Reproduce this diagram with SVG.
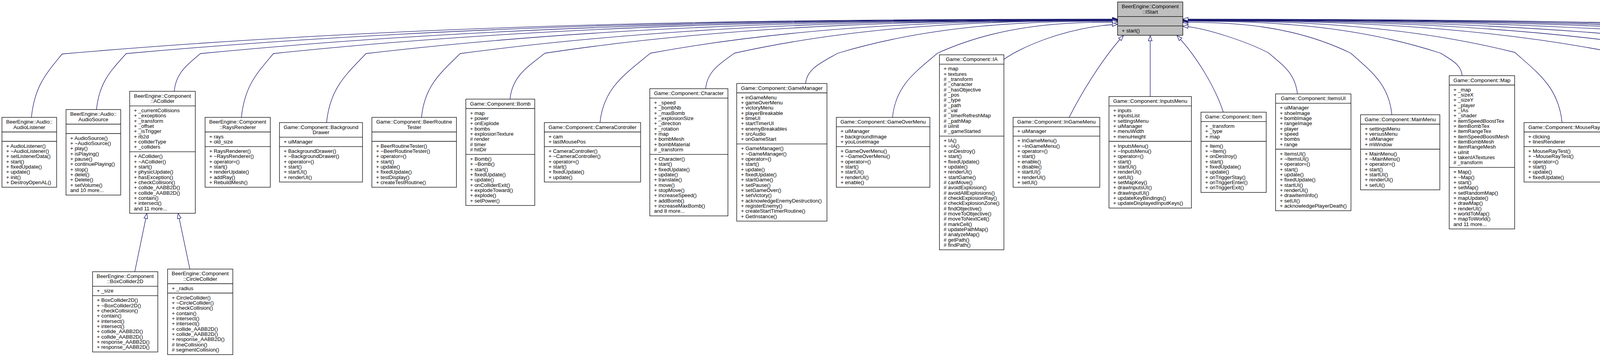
<svg xmlns="http://www.w3.org/2000/svg" width="5948" height="913" viewBox="0 0 5948 913">
<defs>
<style>
.node rect{fill:#fff;stroke:#000;stroke-width:1.3}
.node path{fill:none;stroke:#000;stroke-width:1.3}
#IStart rect{fill:#bfbfbf}
text{font-family:"Liberation Sans",Arial,Helvetica,sans-serif;font-size:13.33px;fill:#000}
.c{text-anchor:middle}
#edges path{fill:none;stroke:#191970;stroke-width:1.3;marker-end:url(#arr)}
</style>
<marker id="arr" markerUnits="userSpaceOnUse" viewBox="-2 -7 17 14" markerWidth="17" markerHeight="14" refX="13.3" refY="0" orient="auto" overflow="visible">
<path d="M0,-4.7L13.3,0L0,4.7Z" fill="#fff" stroke="#191970" stroke-width="1.3"/>
</marker>
</defs>
<rect width="5948" height="913" fill="#fff"/>
<g id="edges">
<path d="M80.4,300.2C88.5,219.1 119.7,186.7 159,138C1104.7,55.9 2050.4,49 2861,49"/>
<path d="M247,280.2C254.2,208.6 285,180 323,137C1211.3,56.5 2099.6,49.5 2861,49.5"/>
<path d="M446,233.5C450.8,185.3 479.5,166 513,137C1334.8,57 2156.6,50 2861,50"/>
<path d="M618,300.2C626.2,218.6 659,186 700,137C1456.4,57.4 2212.7,50.5 2861,50.5"/>
<path d="M836,313.5C844.8,225.3 886.5,190 937,137C1610.4,57.9 2283.8,51 2861,51"/>
<path d="M1079,300.2C1087.2,218.6 1128.5,186 1178,137C1767,58.3 2356.1,51.5 2861,51.5"/>
<path d="M1305.6,253.5C1311.5,194.8 1350.3,171.3 1395,136C1908.1,58.7 2421.2,52 2861,52"/>
<path d="M1536,313.5C1544.9,224.8 1600.5,189.3 1665,136C2083.6,59.2 2502.2,52.5 2861,52.5"/>
<path d="M1806.4,226.8C1810.9,181.4 1843.2,163.2 1880,136C2223.4,59.6 2566.7,53 2861,53"/>
<path d="M2062.3,213.5C2066.2,174.8 2103.7,159.3 2145,136C2395.6,60.6 2646.2,54 2861,54"/>
<path d="M2284.8,300.2C2293,218.1 2342.4,185.3 2400,136C2561.4,62.9 2722.7,56.5 2861,56.5"/>
<path d="M2569.7,152C2605,126 2720,70 2861,62"/>
<path d="M2737,300.2C2775,225 2830,140 2876,91"/>
<path d="M2944.5,246.8L2944.5,91"/>
<path d="M3131.7,286.8C3110,220 3060,140 3013,91"/>
<path d="M3321.3,240.2C3316,187.6 3284.2,166.6 3247,135C3195,108 3085,70 3028,67"/>
<path d="M3563.2,293.5C3555.3,214.8 3510.6,183.3 3458,136C3307.5,63.3 3157,57 3028,57"/>
<path d="M3743.2,193.5C3740.3,164.8 3715.6,153.3 3688,136C3457,60.6 3226,54 3028,54"/>
<path d="M3998.9,313.5C3989.9,223.8 3938.5,187.9 3878,134C3580.5,59.5 3283,53 3028,53"/>
<path d="M4218.9,253.5C4212.9,193.8 4175.5,169.9 4132,134C3745.6,59 3359.2,52.5 3028,52.5"/>
<path d="M4432.8,280.2C4425.5,207.1 4383.4,177.9 4334,134C3876.9,58.6 3419.8,52 3028,52"/>
<path d="M4642.5,246.8C4636.9,190.4 4592.8,167.8 4543,134C4012.7,58.1 3482.5,51.5 3028,51.5"/>
<path d="M4910,306.8C4901.4,220.4 4851,185.8 4792,134C4174.6,57.6 3557.2,51 3028,51"/>
<path d="M5134.6,286.8C5127,210.4 5084.3,179.8 5034,134C4331.9,57.2 3629.8,50.5 3028,50.5"/>
<path d="M5333.4,246.8C5327.8,190.4 5287.2,167.8 5241,134C4466.4,56.7 3691.9,50 3028,50"/>
<path d="M5579,306.8C5570.4,220.4 5520,185.8 5461,134C4609.4,56.3 3757.9,49.5 3028,49.5"/>
<path d="M5816.8,300.2C5808.5,217.1 5757.9,183.9 5699,134C4764.1,55.8 3829.3,49 3028,49"/>
<path d="M345,694.8L376,545.5"/>
<path d="M486,688.2L456,545.5"/>
</g>
<g id="IStart" class="node" transform="translate(2861,5)"><rect width="167" height="85.333"/><path d="M0,37.333H167M0,61.333H167"/><text class="c" x="83.5" y="16.3">BeerEngine::Component<tspan x="83.5" dy="13.333">::IStart</tspan></text><text y="77.63"><tspan x="10.7">+ start()</tspan></text></g>
<g id="AudioListener" class="node" transform="translate(5,300.167)"><rect width="140" height="178.667"/><path d="M0,37.333H140M0,61.333H140"/><text class="c" x="70" y="16.3">BeerEngine::Audio::<tspan x="70" dy="13.333">AudioListener</tspan></text><text y="77.63"><tspan x="10.7">+ AudioListener()</tspan><tspan x="10.7" dy="13.333">+ ~AudioListener()</tspan><tspan x="10.7" dy="13.333">+ setListenerData()</tspan><tspan x="10.7" dy="13.333">+ start()</tspan><tspan x="10.7" dy="13.333">+ fixedUpdate()</tspan><tspan x="10.7" dy="13.333">+ update()</tspan><tspan x="10.7" dy="13.333">+ init()</tspan><tspan x="10.7" dy="13.333">+ DestroyOpenAL()</tspan></text></g>
<g id="AudioSource" class="node" transform="translate(169,280.167)"><rect width="140" height="218.667"/><path d="M0,37.333H140M0,61.333H140"/><text class="c" x="70" y="16.3">BeerEngine::Audio::<tspan x="70" dy="13.333">AudioSource</tspan></text><text y="77.63"><tspan x="10.7">+ AudioSource()</tspan><tspan x="10.7" dy="13.333">+ ~AudioSource()</tspan><tspan x="10.7" dy="13.333">+ play()</tspan><tspan x="10.7" dy="13.333">+ isPlaying()</tspan><tspan x="10.7" dy="13.333">+ pause()</tspan><tspan x="10.7" dy="13.333">+ continuePlaying()</tspan><tspan x="10.7" dy="13.333">+ stop()</tspan><tspan x="10.7" dy="13.333">+ delet()</tspan><tspan x="10.7" dy="13.333">+ Delete()</tspan><tspan x="10.7" dy="13.333">+ setVolume()</tspan><tspan x="10.7" dy="13.333">and 10 more...</tspan></text></g>
<g id="ACollider" class="node" transform="translate(332,233.5)"><rect width="168" height="312"/><path d="M0,37.333H168M0,154.667H168"/><text class="c" x="84" y="16.3">BeerEngine::Component<tspan x="84" dy="13.333">::ACollider</tspan></text><text y="53.63"><tspan x="10.7">+ _currentCollisions</tspan><tspan x="10.7" dy="13.333">+ _exceptions</tspan><tspan x="10.7" dy="13.333">+ _transform</tspan><tspan x="10.7" dy="13.333">+ _offset</tspan><tspan x="10.7" dy="13.333">+ _isTrigger</tspan><tspan x="10.7" dy="13.333">+ rb2d</tspan><tspan x="10.7" dy="13.333">+ colliderType</tspan><tspan x="10.7" dy="13.333">+ _colliders</tspan></text><text y="170.97"><tspan x="10.7">+ ACollider()</tspan><tspan x="10.7" dy="13.333">+ ~ACollider()</tspan><tspan x="10.7" dy="13.333">+ start()</tspan><tspan x="10.7" dy="13.333">+ physicUpdate()</tspan><tspan x="10.7" dy="13.333">+ hasException()</tspan><tspan x="10.7" dy="13.333">+ checkCollision()</tspan><tspan x="10.7" dy="13.333">+ collide_AABB2D()</tspan><tspan x="10.7" dy="13.333">+ collide_AABB2D()</tspan><tspan x="10.7" dy="13.333">+ contain()</tspan><tspan x="10.7" dy="13.333">+ intersect()</tspan><tspan x="10.7" dy="13.333">and 11 more...</tspan></text></g>
<g id="RaysRenderer" class="node" transform="translate(525,300.167)"><rect width="167" height="178.667"/><path d="M0,37.333H167M0,74.667H167"/><text class="c" x="83.5" y="16.3">BeerEngine::Component<tspan x="83.5" dy="13.333">::RaysRenderer</tspan></text><text y="53.63"><tspan x="10.7">+ rays</tspan><tspan x="10.7" dy="13.333">+ old_size</tspan></text><text y="90.97"><tspan x="10.7">+ RaysRenderer()</tspan><tspan x="10.7" dy="13.333">+ ~RaysRenderer()</tspan><tspan x="10.7" dy="13.333">+ operator=()</tspan><tspan x="10.7" dy="13.333">+ start()</tspan><tspan x="10.7" dy="13.333">+ renderUpdate()</tspan><tspan x="10.7" dy="13.333">+ addRay()</tspan><tspan x="10.7" dy="13.333">+ RebuildMesh()</tspan></text></g>
<g id="BackgroundDrawer" class="node" transform="translate(715.5,313.5)"><rect width="212.5" height="152"/><path d="M0,37.333H212.5M0,61.333H212.5"/><text class="c" x="106.25" y="16.3">Game::Component::Background<tspan x="106.25" dy="13.333">Drawer</tspan></text><text y="53.63"><tspan x="10.7">+ uiManager</tspan></text><text y="77.63"><tspan x="10.7">+ BackgroundDrawer()</tspan><tspan x="10.7" dy="13.333">+ ~BackgroundDrawer()</tspan><tspan x="10.7" dy="13.333">+ operator=()</tspan><tspan x="10.7" dy="13.333">+ start()</tspan><tspan x="10.7" dy="13.333">+ startUI()</tspan><tspan x="10.7" dy="13.333">+ renderUI()</tspan></text></g>
<g id="BeerRoutineTester" class="node" transform="translate(952,300.167)"><rect width="216.5" height="178.667"/><path d="M0,37.333H216.5M0,61.333H216.5"/><text class="c" x="108.25" y="16.3">Game::Component::BeerRoutine<tspan x="108.25" dy="13.333">Tester</tspan></text><text y="77.63"><tspan x="10.7">+ BeerRoutineTester()</tspan><tspan x="10.7" dy="13.333">+ ~BeerRoutineTester()</tspan><tspan x="10.7" dy="13.333">+ operator=()</tspan><tspan x="10.7" dy="13.333">+ start()</tspan><tspan x="10.7" dy="13.333">+ update()</tspan><tspan x="10.7" dy="13.333">+ fixedUpdate()</tspan><tspan x="10.7" dy="13.333">+ testDisplay()</tspan><tspan x="10.7" dy="13.333">+ createTestRoutine()</tspan></text></g>
<g id="Bomb" class="node" transform="translate(1192.5,253.5)"><rect width="176.5" height="272"/><path d="M0,24H176.5M0,141.333H176.5"/><text class="c" x="88.25" y="16.3">Game::Component::Bomb</text><text y="40.3"><tspan x="10.7">+ map</tspan><tspan x="10.7" dy="13.333">+ power</tspan><tspan x="10.7" dy="13.333">+ onExplode</tspan><tspan x="10.7" dy="13.333">+ bombs</tspan><tspan x="10.7" dy="13.333">+ explosionTexture</tspan><tspan x="10.7" dy="13.333"># render</tspan><tspan x="10.7" dy="13.333"># timer</tspan><tspan x="10.7" dy="13.333"># hitDir</tspan></text><text y="157.63"><tspan x="10.7">+ Bomb()</tspan><tspan x="10.7" dy="13.333">+ ~Bomb()</tspan><tspan x="10.7" dy="13.333">+ start()</tspan><tspan x="10.7" dy="13.333">+ fixedUpdate()</tspan><tspan x="10.7" dy="13.333">+ update()</tspan><tspan x="10.7" dy="13.333">+ onColliderExit()</tspan><tspan x="10.7" dy="13.333">+ explodeToward()</tspan><tspan x="10.7" dy="13.333">+ explode()</tspan><tspan x="10.7" dy="13.333">+ setPower()</tspan></text></g>
<g id="CameraController" class="node" transform="translate(1393.5,313.5)"><rect width="246.5" height="152"/><path d="M0,24H246.5M0,61.333H246.5"/><text class="c" x="123.25" y="16.3">Game::Component::CameraController</text><text y="40.3"><tspan x="10.7">+ cam</tspan><tspan x="10.7" dy="13.333">+ lastMousePos</tspan></text><text y="77.63"><tspan x="10.7">+ CameraController()</tspan><tspan x="10.7" dy="13.333">+ ~CameraController()</tspan><tspan x="10.7" dy="13.333">+ operator=()</tspan><tspan x="10.7" dy="13.333">+ start()</tspan><tspan x="10.7" dy="13.333">+ fixedUpdate()</tspan><tspan x="10.7" dy="13.333">+ update()</tspan></text></g>
<g id="Character" class="node" transform="translate(1663.5,226.833)"><rect width="200" height="325.333"/><path d="M0,24H200M0,168H200"/><text class="c" x="100" y="16.3">Game::Component::Character</text><text y="40.3"><tspan x="10.7">+ _speed</tspan><tspan x="10.7" dy="13.333">+ _bombNb</tspan><tspan x="10.7" dy="13.333">+ _maxBomb</tspan><tspan x="10.7" dy="13.333">+ _explosionSize</tspan><tspan x="10.7" dy="13.333">+ _direction</tspan><tspan x="10.7" dy="13.333">+ _rotation</tspan><tspan x="10.7" dy="13.333">+ map</tspan><tspan x="10.7" dy="13.333">+ bombMesh</tspan><tspan x="10.7" dy="13.333">+ bombMaterial</tspan><tspan x="10.7" dy="13.333"># _transform</tspan></text><text y="184.3"><tspan x="10.7">+ Character()</tspan><tspan x="10.7" dy="13.333">+ start()</tspan><tspan x="10.7" dy="13.333">+ fixedUpdate()</tspan><tspan x="10.7" dy="13.333">+ update()</tspan><tspan x="10.7" dy="13.333">+ translate()</tspan><tspan x="10.7" dy="13.333">+ move()</tspan><tspan x="10.7" dy="13.333">+ stopMove()</tspan><tspan x="10.7" dy="13.333">+ increaseSpeed()</tspan><tspan x="10.7" dy="13.333">+ addBomb()</tspan><tspan x="10.7" dy="13.333">+ increaseMaxBomb()</tspan><tspan x="10.7" dy="13.333">and 8 more...</tspan></text></g>
<g id="GameManager" class="node" transform="translate(1886,213.5)"><rect width="231" height="352"/><path d="M0,24H231M0,154.667H231"/><text class="c" x="115.5" y="16.3">Game::Component::GameManager</text><text y="40.3"><tspan x="10.7">+ inGameMenu</tspan><tspan x="10.7" dy="13.333">+ gameOverMenu</tspan><tspan x="10.7" dy="13.333">+ victoryMenu</tspan><tspan x="10.7" dy="13.333">+ playerBreakable</tspan><tspan x="10.7" dy="13.333">+ timeUI</tspan><tspan x="10.7" dy="13.333">+ startTimerUI</tspan><tspan x="10.7" dy="13.333">+ enemyBreakables</tspan><tspan x="10.7" dy="13.333">+ srcAudio</tspan><tspan x="10.7" dy="13.333">+ onGameStart</tspan></text><text y="170.97"><tspan x="10.7">+ GameManager()</tspan><tspan x="10.7" dy="13.333">+ ~GameManager()</tspan><tspan x="10.7" dy="13.333">+ operator=()</tspan><tspan x="10.7" dy="13.333">+ start()</tspan><tspan x="10.7" dy="13.333">+ update()</tspan><tspan x="10.7" dy="13.333">+ fixedUpdate()</tspan><tspan x="10.7" dy="13.333">+ startGame()</tspan><tspan x="10.7" dy="13.333">+ setPause()</tspan><tspan x="10.7" dy="13.333">+ setGameOver()</tspan><tspan x="10.7" dy="13.333">+ setVictory()</tspan><tspan x="10.7" dy="13.333">+ acknowledgeEnemyDestruction()</tspan><tspan x="10.7" dy="13.333">+ registerEnemy()</tspan><tspan x="10.7" dy="13.333">+ createStartTimerRoutine()</tspan><tspan x="10.7" dy="13.333">+ GetInstance()</tspan></text></g>
<g id="GameOverMenu" class="node" transform="translate(2141,300.167)"><rect width="239.5" height="178.667"/><path d="M0,24H239.5M0,74.667H239.5"/><text class="c" x="119.75" y="16.3">Game::Component::GameOverMenu</text><text y="40.3"><tspan x="10.7">+ uiManager</tspan><tspan x="10.7" dy="13.333">+ backgroundImage</tspan><tspan x="10.7" dy="13.333">+ youLoseImage</tspan></text><text y="90.97"><tspan x="10.7">+ GameOverMenu()</tspan><tspan x="10.7" dy="13.333">+ ~GameOverMenu()</tspan><tspan x="10.7" dy="13.333">+ operator=()</tspan><tspan x="10.7" dy="13.333">+ start()</tspan><tspan x="10.7" dy="13.333">+ startUI()</tspan><tspan x="10.7" dy="13.333">+ renderUI()</tspan><tspan x="10.7" dy="13.333">+ enable()</tspan></text></g>
<g id="IA" class="node" transform="translate(2405,140.167)"><rect width="165" height="498.667"/><path d="M0,24H165M0,208H165"/><text class="c" x="82.5" y="16.3">Game::Component::IA</text><text y="40.3"><tspan x="10.7">+ map</tspan><tspan x="10.7" dy="13.333">+ textures</tspan><tspan x="10.7" dy="13.333"># _transform</tspan><tspan x="10.7" dy="13.333"># _character</tspan><tspan x="10.7" dy="13.333"># _hasObjective</tspan><tspan x="10.7" dy="13.333"># _pos</tspan><tspan x="10.7" dy="13.333"># _type</tspan><tspan x="10.7" dy="13.333"># _path</tspan><tspan x="10.7" dy="13.333"># _val</tspan><tspan x="10.7" dy="13.333"># _timerRefreshMap</tspan><tspan x="10.7" dy="13.333"># _pathMap</tspan><tspan x="10.7" dy="13.333"># uiInit</tspan><tspan x="10.7" dy="13.333"># _gameStarted</tspan></text><text y="224.3"><tspan x="10.7">+ IA()</tspan><tspan x="10.7" dy="13.333">+ ~IA()</tspan><tspan x="10.7" dy="13.333">+ onDestroy()</tspan><tspan x="10.7" dy="13.333">+ start()</tspan><tspan x="10.7" dy="13.333">+ fixedUpdate()</tspan><tspan x="10.7" dy="13.333">+ update()</tspan><tspan x="10.7" dy="13.333">+ renderUI()</tspan><tspan x="10.7" dy="13.333">+ startGame()</tspan><tspan x="10.7" dy="13.333"># canMove()</tspan><tspan x="10.7" dy="13.333"># avoidExplosion()</tspan><tspan x="10.7" dy="13.333"># avoidAllExplosions()</tspan><tspan x="10.7" dy="13.333"># checkExplosionRay()</tspan><tspan x="10.7" dy="13.333"># checkExplosionZone()</tspan><tspan x="10.7" dy="13.333"># findObjective()</tspan><tspan x="10.7" dy="13.333"># moveToObjective()</tspan><tspan x="10.7" dy="13.333"># moveToNextCell()</tspan><tspan x="10.7" dy="13.333"># markCell()</tspan><tspan x="10.7" dy="13.333"># updatePathMap()</tspan><tspan x="10.7" dy="13.333"># analyzeMap()</tspan><tspan x="10.7" dy="13.333"># getPath()</tspan><tspan x="10.7" dy="13.333"># findPath()</tspan></text></g>
<g id="InGameMenu" class="node" transform="translate(2593.5,300.167)"><rect width="222" height="178.667"/><path d="M0,24H222M0,48H222"/><text class="c" x="111" y="16.3">Game::Component::InGameMenu</text><text y="40.3"><tspan x="10.7">+ uiManager</tspan></text><text y="64.3"><tspan x="10.7">+ InGameMenu()</tspan><tspan x="10.7" dy="13.333">+ ~InGameMenu()</tspan><tspan x="10.7" dy="13.333">+ operator=()</tspan><tspan x="10.7" dy="13.333">+ start()</tspan><tspan x="10.7" dy="13.333">+ enable()</tspan><tspan x="10.7" dy="13.333">+ disable()</tspan><tspan x="10.7" dy="13.333">+ startUI()</tspan><tspan x="10.7" dy="13.333">+ renderUI()</tspan><tspan x="10.7" dy="13.333">+ setUI()</tspan></text></g>
<g id="InputsMenu" class="node" transform="translate(2839,246.833)"><rect width="211" height="285.333"/><path d="M0,24H211M0,114.667H211"/><text class="c" x="105.5" y="16.3">Game::Component::InputsMenu</text><text y="40.3"><tspan x="10.7">+ inputs</tspan><tspan x="10.7" dy="13.333">+ inputsList</tspan><tspan x="10.7" dy="13.333">+ settingsMenu</tspan><tspan x="10.7" dy="13.333">+ uiManager</tspan><tspan x="10.7" dy="13.333">+ menuWidth</tspan><tspan x="10.7" dy="13.333">+ menuHeight</tspan></text><text y="130.97"><tspan x="10.7">+ InputsMenu()</tspan><tspan x="10.7" dy="13.333">+ ~InputsMenu()</tspan><tspan x="10.7" dy="13.333">+ operator=()</tspan><tspan x="10.7" dy="13.333">+ start()</tspan><tspan x="10.7" dy="13.333">+ startUI()</tspan><tspan x="10.7" dy="13.333">+ renderUI()</tspan><tspan x="10.7" dy="13.333">+ setUI()</tspan><tspan x="10.7" dy="13.333">+ setMapKey()</tspan><tspan x="10.7" dy="13.333">+ drawInputsUI()</tspan><tspan x="10.7" dy="13.333">+ drawInputUI()</tspan><tspan x="10.7" dy="13.333">+ updateKeyBindings()</tspan><tspan x="10.7" dy="13.333">+ updateDisplayedInputKeys()</tspan></text></g>
<g id="Item" class="node" transform="translate(3074.5,286.833)"><rect width="167" height="205.333"/><path d="M0,24H167M0,74.667H167"/><text class="c" x="83.5" y="16.3">Game::Component::Item</text><text y="40.3"><tspan x="10.7">+ _transform</tspan><tspan x="10.7" dy="13.333">+ _type</tspan><tspan x="10.7" dy="13.333">+ map</tspan></text><text y="90.97"><tspan x="10.7">+ Item()</tspan><tspan x="10.7" dy="13.333">+ ~Item()</tspan><tspan x="10.7" dy="13.333">+ onDestroy()</tspan><tspan x="10.7" dy="13.333">+ start()</tspan><tspan x="10.7" dy="13.333">+ fixedUpdate()</tspan><tspan x="10.7" dy="13.333">+ update()</tspan><tspan x="10.7" dy="13.333">+ onTriggerStay()</tspan><tspan x="10.7" dy="13.333">+ onTriggerEnter()</tspan><tspan x="10.7" dy="13.333">+ onTriggerExit()</tspan></text></g>
<g id="ItemsUI" class="node" transform="translate(3265.5,240.167)"><rect width="193" height="298.667"/><path d="M0,24H193M0,141.333H193"/><text class="c" x="96.5" y="16.3">Game::Component::ItemsUI</text><text y="40.3"><tspan x="10.7">+ uiManager</tspan><tspan x="10.7" dy="13.333">+ shoeImage</tspan><tspan x="10.7" dy="13.333">+ bombImage</tspan><tspan x="10.7" dy="13.333">+ rangeImage</tspan><tspan x="10.7" dy="13.333">+ player</tspan><tspan x="10.7" dy="13.333">+ speed</tspan><tspan x="10.7" dy="13.333">+ bombs</tspan><tspan x="10.7" dy="13.333">+ range</tspan></text><text y="157.63"><tspan x="10.7">+ ItemsUI()</tspan><tspan x="10.7" dy="13.333">+ ~ItemsUI()</tspan><tspan x="10.7" dy="13.333">+ operator=()</tspan><tspan x="10.7" dy="13.333">+ start()</tspan><tspan x="10.7" dy="13.333">+ update()</tspan><tspan x="10.7" dy="13.333">+ fixedUpdate()</tspan><tspan x="10.7" dy="13.333">+ startUI()</tspan><tspan x="10.7" dy="13.333">+ renderUI()</tspan><tspan x="10.7" dy="13.333">+ drawItemInfo()</tspan><tspan x="10.7" dy="13.333">+ setUI()</tspan><tspan x="10.7" dy="13.333">+ acknowledgePlayerDeath()</tspan></text></g>
<g id="MainMenu" class="node" transform="translate(3483,293.5)"><rect width="203" height="192"/><path d="M0,24H203M0,88H203"/><text class="c" x="101.5" y="16.3">Game::Component::MainMenu</text><text y="40.3"><tspan x="10.7">+ settingsMenu</tspan><tspan x="10.7" dy="13.333">+ versusMenu</tspan><tspan x="10.7" dy="13.333">+ uiManager</tspan><tspan x="10.7" dy="13.333">+ mWindow</tspan></text><text y="104.3"><tspan x="10.7">+ MainMenu()</tspan><tspan x="10.7" dy="13.333">+ ~MainMenu()</tspan><tspan x="10.7" dy="13.333">+ operator=()</tspan><tspan x="10.7" dy="13.333">+ start()</tspan><tspan x="10.7" dy="13.333">+ startUI()</tspan><tspan x="10.7" dy="13.333">+ renderUI()</tspan><tspan x="10.7" dy="13.333">+ setUI()</tspan></text></g>
<g id="Map" class="node" transform="translate(3710,193.5)"><rect width="167.5" height="392"/><path d="M0,24H167.5M0,234.667H167.5"/><text class="c" x="83.75" y="16.3">Game::Component::Map</text><text y="40.3"><tspan x="10.7">+ _map</tspan><tspan x="10.7" dy="13.333">+ _sizeX</tspan><tspan x="10.7" dy="13.333">+ _sizeY</tspan><tspan x="10.7" dy="13.333">+ _player</tspan><tspan x="10.7" dy="13.333">+ _IAs</tspan><tspan x="10.7" dy="13.333">+ _shader</tspan><tspan x="10.7" dy="13.333">+ itemSpeedBoostTex</tspan><tspan x="10.7" dy="13.333">+ itemBombTex</tspan><tspan x="10.7" dy="13.333">+ itemRangeTex</tspan><tspan x="10.7" dy="13.333">+ itemSpeedBoostMesh</tspan><tspan x="10.7" dy="13.333">+ itemBombMesh</tspan><tspan x="10.7" dy="13.333">+ itemRangeMesh</tspan><tspan x="10.7" dy="13.333">+ uiInit</tspan><tspan x="10.7" dy="13.333">+ takenIATextures</tspan><tspan x="10.7" dy="13.333"># _transform</tspan></text><text y="250.97"><tspan x="10.7">+ Map()</tspan><tspan x="10.7" dy="13.333">+ ~Map()</tspan><tspan x="10.7" dy="13.333">+ start()</tspan><tspan x="10.7" dy="13.333">+ setMap()</tspan><tspan x="10.7" dy="13.333">+ setRandomMap()</tspan><tspan x="10.7" dy="13.333">+ mapUpdate()</tspan><tspan x="10.7" dy="13.333">+ drawMap()</tspan><tspan x="10.7" dy="13.333">+ renderUI()</tspan><tspan x="10.7" dy="13.333">+ worldToMap()</tspan><tspan x="10.7" dy="13.333">+ mapToWorld()</tspan><tspan x="10.7" dy="13.333">and 11 more...</tspan></text></g>
<g id="MouseRayTest" class="node" transform="translate(3901.5,313.5)"><rect width="230" height="152"/><path d="M0,24H230M0,61.333H230"/><text class="c" x="115" y="16.3">Game::Component::MouseRayTest</text><text y="40.3"><tspan x="10.7">+ clicking</tspan><tspan x="10.7" dy="13.333">+ linesRenderer</tspan></text><text y="77.63"><tspan x="10.7">+ MouseRayTest()</tspan><tspan x="10.7" dy="13.333">+ ~MouseRayTest()</tspan><tspan x="10.7" dy="13.333">+ operator=()</tspan><tspan x="10.7" dy="13.333">+ start()</tspan><tspan x="10.7" dy="13.333">+ update()</tspan><tspan x="10.7" dy="13.333">+ fixedUpdate()</tspan></text></g>
<g id="Player" class="node" transform="translate(4155,253.5)"><rect width="179.5" height="272"/><path d="M0,24H179.5M0,128H179.5"/><text class="c" x="89.75" y="16.3">Game::Component::Player</text><text y="40.3"><tspan x="10.7">+ _character</tspan><tspan x="10.7" dy="13.333">+ srcAudio</tspan><tspan x="10.7" dy="13.333">+ itemSrcAudio</tspan><tspan x="10.7" dy="13.333">+ play</tspan><tspan x="10.7" dy="13.333">+ createCrateSignal</tspan><tspan x="10.7" dy="13.333"># _transform</tspan><tspan x="10.7" dy="13.333"># _gameStarted</tspan></text><text y="144.3"><tspan x="10.7">+ Player()</tspan><tspan x="10.7" dy="13.333">+ ~Player()</tspan><tspan x="10.7" dy="13.333">+ onDestroy()</tspan><tspan x="10.7" dy="13.333">+ start()</tspan><tspan x="10.7" dy="13.333">+ fixedUpdate()</tspan><tspan x="10.7" dy="13.333">+ update()</tspan><tspan x="10.7" dy="13.333">+ renderUI()</tspan><tspan x="10.7" dy="13.333">+ onColliderEnter()</tspan><tspan x="10.7" dy="13.333">+ playStepSound()</tspan><tspan x="10.7" dy="13.333">+ startGame()</tspan></text></g>
<g id="Settings" class="node" transform="translate(4358,280.167)"><rect width="189.5" height="218.667"/><path d="M0,24H189.5M0,61.333H189.5"/><text class="c" x="94.75" y="16.3">Game::Component::Settings</text><text y="40.3"><tspan x="10.7">+ filePath</tspan><tspan x="10.7" dy="13.333">+ settingsContainer</tspan></text><text y="77.63"><tspan x="10.7">+ Settings()</tspan><tspan x="10.7" dy="13.333">+ ~Settings()</tspan><tspan x="10.7" dy="13.333">+ operator=()</tspan><tspan x="10.7" dy="13.333">+ loadSettings()</tspan><tspan x="10.7" dy="13.333">+ saveSettings()</tspan><tspan x="10.7" dy="13.333">+ resetSettings()</tspan><tspan x="10.7" dy="13.333">+ applyCurrentSettings()</tspan><tspan x="10.7" dy="13.333">+ gatherCurrentSettings()</tspan><tspan x="10.7" dy="13.333">+ start()</tspan><tspan x="10.7" dy="13.333">+ defaultSettings()</tspan><tspan x="10.7" dy="13.333">+ GetInstance()</tspan></text></g>
<g id="SettingsMenu" class="node" transform="translate(4571.5,246.833)"><rect width="223.5" height="285.333"/><path d="M0,24H223.5M0,141.333H223.5"/><text class="c" x="111.75" y="16.3">Game::Component::SettingsMenu</text><text y="40.3"><tspan x="10.7">+ musicVolume</tspan><tspan x="10.7" dy="13.333">+ soundVolume</tspan><tspan x="10.7" dy="13.333">+ mode</tspan><tspan x="10.7" dy="13.333">+ mainMenu</tspan><tspan x="10.7" dy="13.333">+ inputsMenu</tspan><tspan x="10.7" dy="13.333">+ uiManager</tspan><tspan x="10.7" dy="13.333">+ settingsManager</tspan><tspan x="10.7" dy="13.333">+ mWindow</tspan></text><text y="157.63"><tspan x="10.7">+ SettingsMenu()</tspan><tspan x="10.7" dy="13.333">+ ~SettingsMenu()</tspan><tspan x="10.7" dy="13.333">+ operator=()</tspan><tspan x="10.7" dy="13.333">+ start()</tspan><tspan x="10.7" dy="13.333">+ startUI()</tspan><tspan x="10.7" dy="13.333">+ renderUI()</tspan><tspan x="10.7" dy="13.333">+ setUI()</tspan><tspan x="10.7" dy="13.333">+ saveSettings()</tspan><tspan x="10.7" dy="13.333">+ resetSettings()</tspan><tspan x="10.7" dy="13.333">+ updateScreenResolution()</tspan></text></g>
<g id="StartTimerUI" class="node" transform="translate(4819,306.833)"><rect width="216.5" height="165.333"/><path d="M0,24H216.5M0,61.333H216.5"/><text class="c" x="108.25" y="16.3">Game::Component::StartTimerUI</text><text y="40.3"><tspan x="10.7">+ uiManager</tspan><tspan x="10.7" dy="13.333">+ text</tspan></text><text y="77.63"><tspan x="10.7">+ StartTimerUI()</tspan><tspan x="10.7" dy="13.333">+ ~StartTimerUI()</tspan><tspan x="10.7" dy="13.333">+ operator=()</tspan><tspan x="10.7" dy="13.333">+ start()</tspan><tspan x="10.7" dy="13.333">+ startUI()</tspan><tspan x="10.7" dy="13.333">+ renderUI()</tspan><tspan x="10.7" dy="13.333">+ updateDisplay()</tspan></text></g>
<g id="TimeUI" class="node" transform="translate(5059.5,286.833)"><rect width="184" height="205.333"/><path d="M0,24H184M0,88H184"/><text class="c" x="92" y="16.3">Game::Component::TimeUI</text><text y="40.3"><tspan x="10.7">+ uiManager</tspan><tspan x="10.7" dy="13.333">+ backGround</tspan><tspan x="10.7" dy="13.333">+ tvScreen</tspan><tspan x="10.7" dy="13.333">+ timeSinceGameStart</tspan></text><text y="104.3"><tspan x="10.7">+ TimeUI()</tspan><tspan x="10.7" dy="13.333">+ ~TimeUI()</tspan><tspan x="10.7" dy="13.333">+ operator=()</tspan><tspan x="10.7" dy="13.333">+ start()</tspan><tspan x="10.7" dy="13.333">+ startUI()</tspan><tspan x="10.7" dy="13.333">+ renderUI()</tspan><tspan x="10.7" dy="13.333">+ setUI()</tspan><tspan x="10.7" dy="13.333">+ startClock()</tspan></text></g>
<g id="UIThemeManager" class="node" transform="translate(5267.5,246.833)"><rect width="196.5" height="285.333"/><path d="M0,37.333H196.5M0,141.333H196.5"/><text class="c" x="98.25" y="16.3">Game::Component::UITheme<tspan x="98.25" dy="13.333">Manager</tspan></text><text y="53.63"><tspan x="10.7">+ defaultWindow</tspan><tspan x="10.7" dy="13.333">+ defaultButton</tspan><tspan x="10.7" dy="13.333">+ defaultProperty</tspan><tspan x="10.7" dy="13.333">+ defaultText</tspan><tspan x="10.7" dy="13.333">+ defaultSlider</tspan><tspan x="10.7" dy="13.333">+ available_fonts</tspan><tspan x="10.7" dy="13.333">+ themeButton</tspan></text><text y="157.63"><tspan x="10.7">+ UIThemeManager()</tspan><tspan x="10.7" dy="13.333">+ ~UIThemeManager()</tspan><tspan x="10.7" dy="13.333">+ operator=()</tspan><tspan x="10.7" dy="13.333">+ start()</tspan><tspan x="10.7" dy="13.333">+ startUI()</tspan><tspan x="10.7" dy="13.333">+ renderUI()</tspan><tspan x="10.7" dy="13.333">+ saveDefaultUI()</tspan><tspan x="10.7" dy="13.333">+ setThemeUI()</tspan><tspan x="10.7" dy="13.333">+ resetToDefaultUI()</tspan><tspan x="10.7" dy="13.333">+ loadSprite()</tspan></text></g>
<g id="VersusMenu" class="node" transform="translate(5487.5,306.833)"><rect width="215" height="165.333"/><path d="M0,24H215M0,74.667H215"/><text class="c" x="107.5" y="16.3">Game::Component::VersusMenu</text><text y="40.3"><tspan x="10.7">+ uiManager</tspan><tspan x="10.7" dy="13.333">+ mainMenu</tspan><tspan x="10.7" dy="13.333">+ maps</tspan></text><text y="90.97"><tspan x="10.7">+ VersusMenu()</tspan><tspan x="10.7" dy="13.333">+ ~VersusMenu()</tspan><tspan x="10.7" dy="13.333">+ operator=()</tspan><tspan x="10.7" dy="13.333">+ start()</tspan><tspan x="10.7" dy="13.333">+ startUI()</tspan><tspan x="10.7" dy="13.333">+ renderUI()</tspan></text></g>
<g id="VictoryMenu" class="node" transform="translate(5727.5,300.167)"><rect width="215.5" height="178.667"/><path d="M0,24H215.5M0,74.667H215.5"/><text class="c" x="107.75" y="16.3">Game::Component::VictoryMenu</text><text y="40.3"><tspan x="10.7">+ uiManager</tspan><tspan x="10.7" dy="13.333">+ backgroundImage</tspan><tspan x="10.7" dy="13.333">+ titleImage</tspan></text><text y="90.97"><tspan x="10.7">+ VictoryMenu()</tspan><tspan x="10.7" dy="13.333">+ ~VictoryMenu()</tspan><tspan x="10.7" dy="13.333">+ operator=()</tspan><tspan x="10.7" dy="13.333">+ start()</tspan><tspan x="10.7" dy="13.333">+ startUI()</tspan><tspan x="10.7" dy="13.333">+ renderUI()</tspan><tspan x="10.7" dy="13.333">+ enable()</tspan></text></g>
<g id="BoxCollider2D" class="node" transform="translate(237,694.833)"><rect width="167" height="205.333"/><path d="M0,37.333H167M0,61.333H167"/><text class="c" x="83.5" y="16.3">BeerEngine::Component<tspan x="83.5" dy="13.333">::BoxCollider2D</tspan></text><text y="53.63"><tspan x="10.7">+ _size</tspan></text><text y="77.63"><tspan x="10.7">+ BoxCollider2D()</tspan><tspan x="10.7" dy="13.333">+ ~BoxCollider2D()</tspan><tspan x="10.7" dy="13.333">+ checkCollision()</tspan><tspan x="10.7" dy="13.333">+ contain()</tspan><tspan x="10.7" dy="13.333">+ intersect()</tspan><tspan x="10.7" dy="13.333">+ intersect()</tspan><tspan x="10.7" dy="13.333">+ collide_AABB2D()</tspan><tspan x="10.7" dy="13.333">+ collide_AABB2D()</tspan><tspan x="10.7" dy="13.333">+ response_AABB2D()</tspan><tspan x="10.7" dy="13.333">+ response_AABB2D()</tspan></text></g>
<g id="CircleCollider" class="node" transform="translate(429,688.167)"><rect width="167" height="218.667"/><path d="M0,37.333H167M0,61.333H167"/><text class="c" x="83.5" y="16.3">BeerEngine::Component<tspan x="83.5" dy="13.333">::CircleCollider</tspan></text><text y="53.63"><tspan x="10.7">+ _radius</tspan></text><text y="77.63"><tspan x="10.7">+ CircleCollider()</tspan><tspan x="10.7" dy="13.333">+ ~CircleCollider()</tspan><tspan x="10.7" dy="13.333">+ checkCollision()</tspan><tspan x="10.7" dy="13.333">+ contain()</tspan><tspan x="10.7" dy="13.333">+ intersect()</tspan><tspan x="10.7" dy="13.333">+ intersect()</tspan><tspan x="10.7" dy="13.333">+ collide_AABB2D()</tspan><tspan x="10.7" dy="13.333">+ collide_AABB2D()</tspan><tspan x="10.7" dy="13.333">+ response_AABB2D()</tspan><tspan x="10.7" dy="13.333"># lineCollision()</tspan><tspan x="10.7" dy="13.333"># segmentCollision()</tspan></text></g>
</svg>
